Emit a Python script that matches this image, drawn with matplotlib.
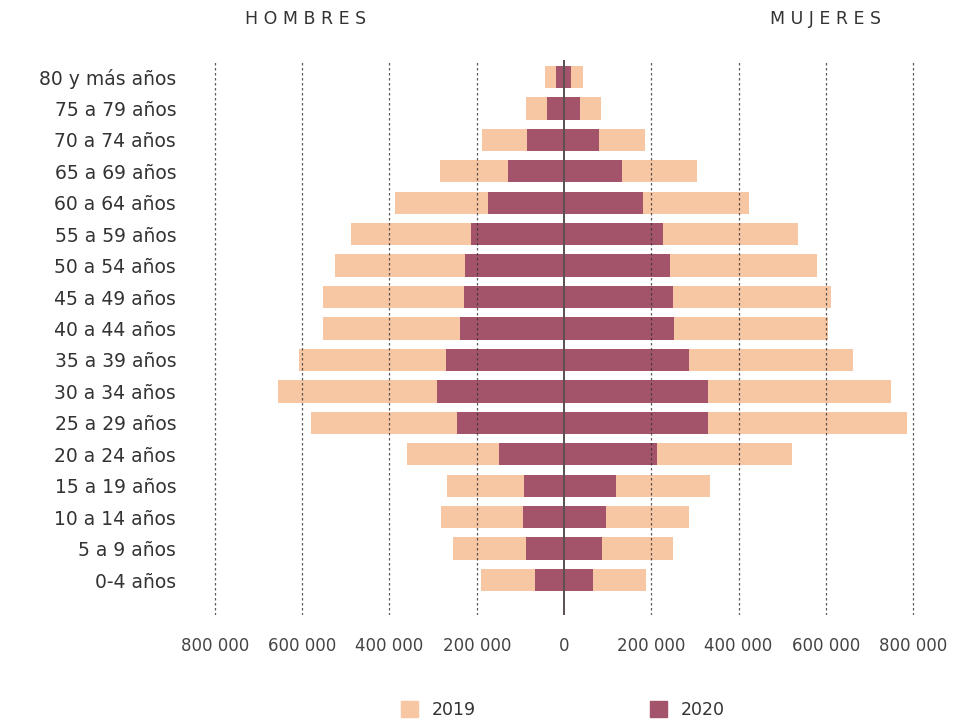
import matplotlib
matplotlib.use("Agg")
import matplotlib.pyplot as plt
from matplotlib.patches import Patch

# age groups, bottom to top
GROUPS = ["0-4 años", "5 a 9 años", "10 a 14 años", "15 a 19 años", "20 a 24 años",
          "25 a 29 años", "30 a 34 años", "35 a 39 años", "40 a 44 años", "45 a 49 años",
          "50 a 54 años", "55 a 59 años", "60 a 64 años", "65 a 69 años", "70 a 74 años",
          "75 a 79 años", "80 y más años"]

# values (persons)
MEN_2019 = [191000, 255000, 282000, 267000, 360000, 580000, 656000, 607000, 553000,
            552000, 524000, 487000, 388000, 285000, 189000, 88000, 44000]
MEN_2020 = [66000, 86000, 93000, 92000, 148000, 245000, 290000, 270000, 238000,
            229000, 226000, 214000, 174000, 129000, 84000, 39000, 18000]
WOMEN_2019 = [189000, 250000, 286000, 334000, 522000, 787000, 750000, 663000, 606000,
              612000, 580000, 536000, 425000, 304000, 186000, 84000, 44000]
WOMEN_2020 = [67000, 86000, 97000, 119000, 212000, 331000, 329000, 286000, 253000,
              249000, 242000, 228000, 182000, 132000, 81000, 36000, 17000]

TICKS = [-800000, -600000, -400000, -200000, 0, 200000, 400000, 600000, 800000]

C2019 = "#f7c6a3"
C2020 = "#a4546a"

fig = plt.figure(figsize=(9.54, 7.21), dpi=100)
ax = fig.add_axes([204 / 954, 1 - 615 / 721, 720 / 954, 555 / 721])

y = list(range(len(GROUPS)))
h = 0.71
ax.barh(y, [-v for v in MEN_2019], height=h, color=C2019, zorder=1)
ax.barh(y, WOMEN_2019, height=h, color=C2019, zorder=1)
ax.barh(y, [-v for v in MEN_2020], height=h, color=C2020, zorder=2)
ax.barh(y, WOMEN_2020, height=h, color=C2020, zorder=2)

for t in TICKS:
    if t == 0:
        ax.axvline(0, color="#5a5050", lw=1.4, zorder=4)
    else:
        ax.axvline(t, color="#333333", lw=0.9, ls=(0, (2, 2)), alpha=0.8, zorder=3)

ax.set_xlim(-825000, 825000)
ax.set_ylim(-1.11, 16.54)
ax.set_yticks(y)
ax.set_yticklabels(GROUPS, fontsize=13.5, color="#333333")
ax.set_xticks(TICKS)
ax.set_xticklabels([f"{abs(t):,}".replace(",", " ") for t in TICKS],
                   fontsize=12, color="#444444")
ax.tick_params(axis="both", length=0)
ax.tick_params(axis="y", pad=20)
ax.tick_params(axis="x", pad=16)
for s in ax.spines.values():
    s.set_visible(False)

fig.text(306 / 954, 1 - 19 / 721, "H O M B R E S", ha="center", va="center",
         fontsize=12.5, color="#333333")
fig.text(826 / 954, 1 - 19 / 721, "M U J E R E S", ha="center", va="center",
         fontsize=12.5, color="#333333")

handles = [Patch(color=C2019, label="2019"), Patch(color=C2020, label="2020")]
fig.legend(handles=handles, loc="center", bbox_to_anchor=(563 / 954, 1 - 710 / 721),
           ncol=2, frameon=False, fontsize=12.5, handlelength=1.0, handleheight=1.0,
           columnspacing=10.0, handletextpad=0.8, labelcolor="#333333")

fig.savefig("out.png", dpi=100)
